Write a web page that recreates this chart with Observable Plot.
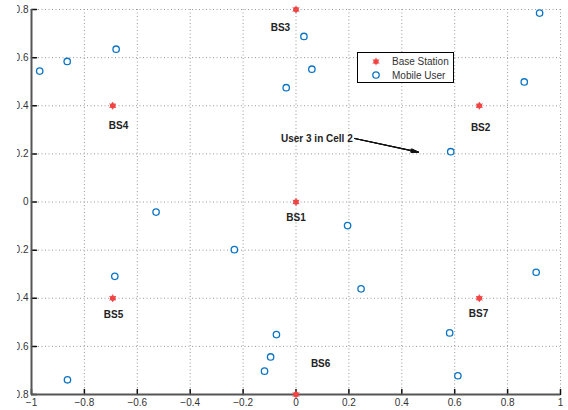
<!DOCTYPE html>
<html><head><meta charset="utf-8">
<script src="https://cdn.jsdelivr.net/npm/d3@7"></script>
<script src="https://cdn.jsdelivr.net/npm/@observablehq/plot@0.6"></script>
<style>
html,body{margin:0;padding:0;background:#fff;}
#wrap{position:relative;width:551px;height:410px;padding-left:17px;font-family:"Liberation Sans",Arial,sans-serif;}
#wrap > svg{overflow:hidden;}
#legend{position:absolute;left:357px;top:52px;width:95px;height:29px;border:1px solid #000;background:#fff;}
#legend svg{display:block;}
</style></head><body><div id="wrap"><div id="legend"></div></div>
<script>
// Base stations
const bsNames = ["BS1", "BS2", "BS3", "BS4", "BS5", "BS6", "BS7"];
const bsX = [0, 0.693, 0, -0.693, -0.693, 0, 0.693];
const bsY = [0, 0.4, 0.8, 0.4, -0.4, -0.8, -0.4];
const bsLabelX = [0, 0.698, -0.059, -0.671, -0.69, 0.093, 0.69];
const bsLabelY = [-0.065, 0.31, 0.726, 0.318, -0.468, -0.672, -0.464];
// Mobile users
const userX = [-0.969, -0.865, -0.680, -0.529, -0.685, -0.864, 0.030, 0.060, -0.037, 0.921, 0.863,
               0.195, -0.233, 0.585, 0.908, 0.246, -0.074, -0.096, -0.119, 0.581, 0.612];
const userY = [0.544, 0.584, 0.635, -0.042, -0.309, -0.739, 0.688, 0.552, 0.475, 0.785, 0.499,
               -0.098, -0.198, 0.209, -0.292, -0.361, -0.551, -0.644, -0.703, -0.544, -0.722];
// Axes
const xTicks = [-1, -0.8, -0.6, -0.4, -0.2, 0, 0.2, 0.4, 0.6, 0.8, 1];
const yTicks = [-0.8, -0.6, -0.4, -0.2, 0, 0.2, 0.4, 0.6, 0.8];
// Annotation
const annoText = ["User 3 in Cell 2"];
const annoX1 = [0.222];
const annoY1 = [0.264];
const annoX2 = [0.463];
const annoY2 = [0.207];
// Legend
const legendLabels = ["Base Station", "Mobile User"];

const red = "#f04545", blue = "#0b74c4";
const users = userX.map((x, i) => ({x, y: userY[i]}));
const stations = bsX.map((x, i) => ({x, y: bsY[i], name: bsNames[i], lx: bsLabelX[i], ly: bsLabelY[i]}));
const anno = annoText.map((t, i) => ({text: t, x1: annoX1[i], y1: annoY1[i], x2: annoX2[i], y2: annoY2[i]}));
const tickShape = {draw(ctx, l) { ctx.moveTo(0, 0); ctx.lineTo(0, -l); }};
const fmt = d => (d < 0 ? "−" : "") + String(Math.abs(d));

const plot = Plot.plot({
  width: 551, height: 410,
  marginTop: 9, marginBottom: 16, marginLeft: 14, marginRight: 8,
  x: {domain: [xTicks[0], xTicks[xTicks.length - 1]]},
  y: {domain: [yTicks[0], yTicks[yTicks.length - 1]]},
  style: {fontFamily: "Liberation Sans, Arial, sans-serif", fontSize: "10px", color: "#333", background: "#fff", overflow: "hidden"},
  marks: [
    Plot.ruleX(xTicks, {stroke: "#999", strokeDasharray: "1,2.5"}),
    Plot.ruleY(yTicks, {stroke: "#999", strokeDasharray: "1,2.5"}),
    Plot.axisX(xTicks, {tickSize: 0, tickPadding: 4, fill: "#333", label: null, tickFormat: fmt}),
    Plot.axisY(yTicks, {tickSize: 0, tickPadding: 3, fill: "#333", label: null, tickFormat: fmt}),
    Plot.vector(xTicks, {x: d => d, frameAnchor: "bottom", length: 5, anchor: "start", shape: tickShape, stroke: "#111"}),
    Plot.vector(yTicks, {y: d => d, frameAnchor: "left", rotate: 90, length: 5, anchor: "start", shape: tickShape, stroke: "#111"}),
    Plot.ruleX([xTicks[0]], {stroke: "#555", strokeWidth: 2}),
    Plot.ruleY([yTicks[0]], {stroke: "#555", strokeWidth: 2}),
    Plot.arrow(anno, {x1: "x1", y1: "y1", x2: "x2", y2: "y2", stroke: "#111", strokeWidth: 1, headLength: 11, headAngle: 30}),
    Plot.arrow(anno, {x1: "x1", y1: "y1", x2: "x2", y2: "y2", stroke: "#111", strokeWidth: 1.2, headLength: 10, headAngle: 18}),
    Plot.arrow(anno, {x1: "x1", y1: "y1", x2: "x2", y2: "y2", stroke: "#111", strokeWidth: 1.2, headLength: 9, headAngle: 8}),
    Plot.text(anno, {x: "x1", y: "y1", text: "text", textAnchor: "end", dx: -2, fontWeight: "bold", fill: "#222"}),
    Plot.dot(stations, {x: "x", y: "y", r: 2.8, fill: red}),
    Plot.dot(stations, {x: "x", y: "y", r: 3.6, symbol: "asterisk", stroke: red, strokeWidth: 1}),
    Plot.text(stations, {x: "lx", y: "ly", text: "name", fontWeight: "bold", fill: "#222"}),
    Plot.dot(users, {x: "x", y: "y", r: 3.2, stroke: blue, strokeWidth: 1.3, fill: "white"})
  ]
});
document.getElementById("wrap").prepend(plot);

// Legend overlay
const lg = d3.select("#legend").append("svg").attr("width", 95).attr("height", 29)
  .style("font-family", "Liberation Sans, Arial, sans-serif").style("font-size", "10px");
lg.append("circle").attr("cx", 18).attr("cy", 8.5).attr("r", 2.6).attr("fill", red);
lg.append("path").attr("transform", "translate(18,8.5)")
  .attr("d", d3.symbol(d3.symbolAsterisk, 40)()).attr("stroke", red).attr("fill", "none");
lg.append("circle").attr("cx", 18).attr("cy", 22).attr("r", 3.2).attr("fill", "white").attr("stroke", blue).attr("stroke-width", 1.3);
lg.selectAll("text").data(legendLabels).join("text")
  .attr("x", 34).attr("y", (d, i) => 8.5 + i * 13.5).attr("dy", "0.35em").attr("fill", "#333").text(d => d);
</script>
</body></html>
